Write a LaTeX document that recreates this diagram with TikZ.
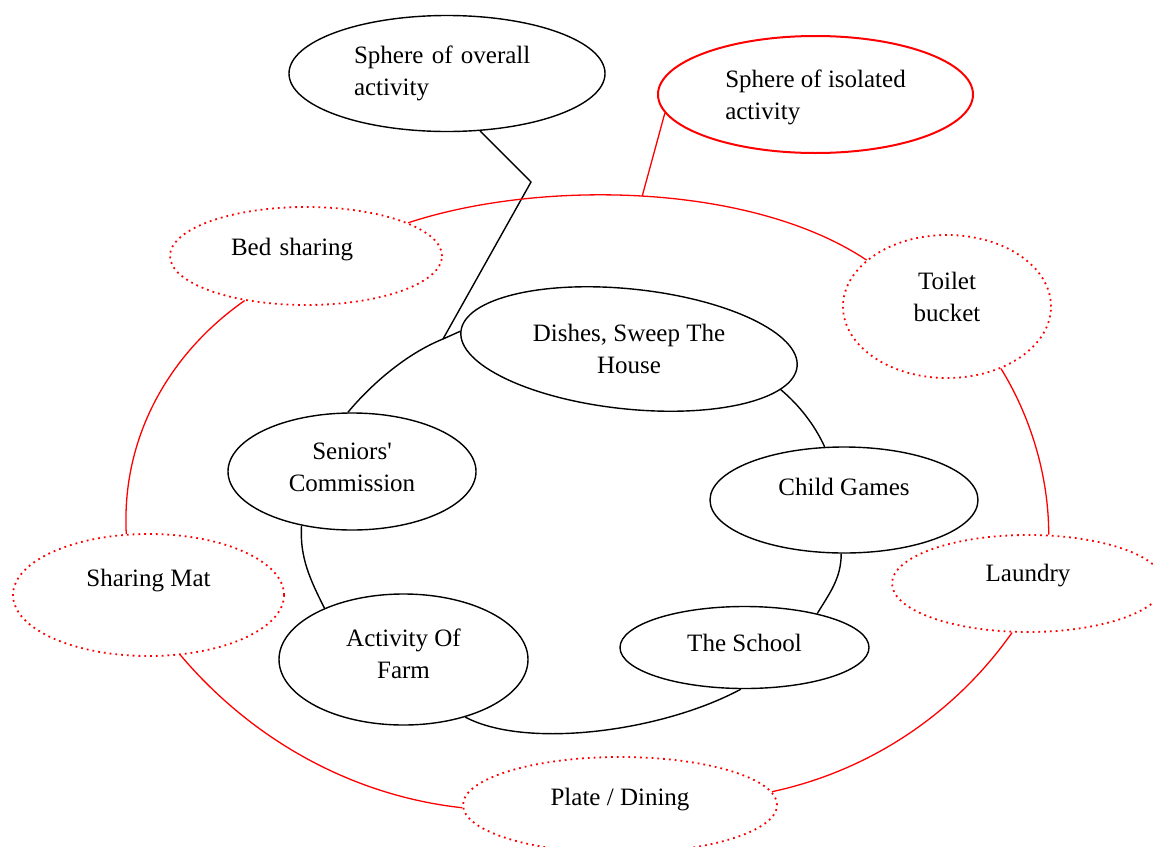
\documentclass[tikz,border=0pt]{standalone}
\usepackage{fontspec}
\setmainfont{Liberation Serif}
\usetikzlibrary{shapes.geometric}

% Changing color 255 0 0
\definecolor{r255g0b0}{rgb}{1.000000,0.000000,0.000000}
% Changing color 0 0 0
\definecolor{r0g0b0}{rgb}{0.000000,0.000000,0.000000}

\tikzset{
  oval/.style={ellipse, draw=r0g0b0, line width=1.4pt, inner sep=0pt, align=center,
    font=\fontsize{25}{32}\selectfont},
  isooval/.style={oval, draw=r255g0b0, line width=2pt},
  dotoval/.style={oval, draw=r255g0b0, line width=1.8pt, dash pattern=on 1.8pt off 4pt},
  plaintext/.style={inner sep=0pt, align=center, font=\fontsize{25}{32}\selectfont},
  blackline/.style={draw=r0g0b0, line width=1.4pt},
  redline/.style={draw=r255g0b0, line width=1.3pt}
}

\begin{document}
\begin{tikzpicture}[x=1pt,y=-1pt]
                                \clip (0.000000,0.000000) rectangle (1153.000000,846.000000);

                                % Marking sphere ellipses
                                \node[oval, minimum width=316pt, minimum height=116pt, text width=186pt, align=left] (overall) at (447.000000,73.500000) {Sphere of overall\\activity};%
                                \node[isooval, minimum width=315pt, minimum height=117pt, align=left, text depth=0pt] (isolated) at (815.500000,94.500000) {Sphere of isolated\\activity};%

                                % Marking red dotted ellipses
                                \node[dotoval, minimum width=272pt, minimum height=98pt, text width=150pt, align=left, text depth=19pt] (bed) at (306.000000,256.000000) {Bed sharing};%
                                \node[dotoval, minimum width=208pt, minimum height=143pt, text depth=19pt] (toilet) at (947.000000,306.500000) {Toilet\\bucket};%
                                \node[dotoval, minimum width=271pt, minimum height=122pt, text depth=35pt] (mat) at (148.500000,595.000000) {Sharing Mat};%
                                \node[dotoval, minimum width=272pt, minimum height=97pt, text depth=22pt] (laundry) at (1028.000000,583.500000) {Laundry};%
                                \node[dotoval, minimum width=314pt, minimum height=96pt, text depth=17pt] (plate) at (620.000000,805.000000) {Plate / Dining};%

                                % Marking black ellipses
                                \node[oval, rotate=-6, minimum width=338pt, minimum height=120pt] (dishes) at (629.000000,349.000000) {};%
                                \node[plaintext] (dishestext) at (dishes) {Dishes, Sweep The\\House};%
                                \node[oval, minimum width=248pt, minimum height=117pt, text depth=9pt] (seniors) at (352.000000,471.500000) {Seniors\textquotesingle\\Commission};%
                                \node[oval, minimum width=268pt, minimum height=106pt, text depth=27pt] (child) at (844.000000,500.000000) {Child Games};%
                                \node[oval, minimum width=249pt, minimum height=82pt, text depth=10pt] (school) at (744.500000,647.500000) {The School};%
                                \node[oval, minimum width=249pt, minimum height=131pt, text depth=12pt] (farm) at (403.500000,659.500000) {Activity Of\\Farm};%

                                % Drawing segment overall knee meet
                                \coordinate (knee) at (531.000000,182.000000);%
                                \coordinate (meet) at (443.000000,339.000000);%
                                \draw[blackline] (overall.-60) -- (knee) -- (meet);%

                                % Drawing inner ring
                                \draw[blackline] (seniors.94) .. controls +(25,-30) and +(-35,14) .. (meet) -- (dishes.180);%
                                \draw[blackline] (dishes.-9) .. controls +(18,15) and +(-10,-22) .. (child.110);%
                                \draw[blackline] (child.-93) .. controls +(0,25) and +(12,-20) .. (school.25);%
                                \draw[blackline] (school.-95) .. controls +(-80,43) and +(60,32) .. (farm.-43);%
                                \draw[blackline] (farm.147) .. controls +(-14,-28) and +(-2,32) .. (seniors.-133);%

                                % Drawing outer ring
                                \draw[redline] (bed.18) .. controls +(130,-43) and +(-117,-78) .. (toilet.150) coordinate[pos=0.5] (tap);%
                                \draw[redline] (isolated.-173) -- (tap);%
                                \draw[redline] (bed.-144) .. controls +(-77,54) and +(-5,-95) .. (mat.110);%
                                \draw[redline] (mat.-62) .. controls +(72,85) and +(-110,-12) .. (plate.181);%
                                \draw[redline] (plate.5) .. controls +(98,-21) and +(-57,81) .. (laundry.-108);%
                                \draw[redline] (laundry.67) .. controls +(0,-60) and +(29,47) .. (toilet.-49);%
                                \end{tikzpicture}
\end{document}
